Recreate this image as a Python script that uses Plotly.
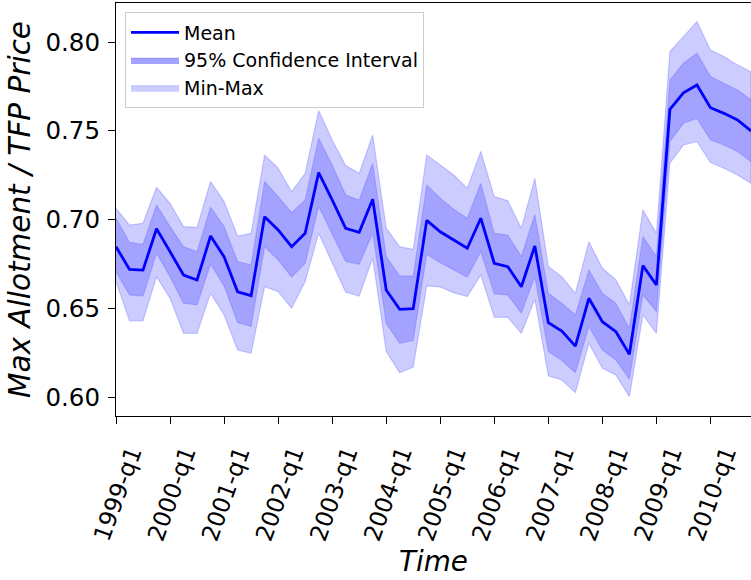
import plotly.graph_objects as go

# Quarterly periods 1999-q1 .. 2010-q4 (index positions along the time axis)
years = list(range(1999, 2011))
periods = [f"{y}-q{q}" for y in years for q in (1, 2, 3, 4)]
tick_labels = ["1999-q1", "2000-q1", "2001-q1", "2002-q1", "2003-q1", "2004-q1",
               "2005-q1", "2006-q1", "2007-q1", "2008-q1", "2009-q1", "2010-q1"]

mean = [0.6847, 0.6719, 0.6715, 0.6948, 0.6819, 0.6687, 0.6659, 0.6907, 0.6790, 0.6593,
        0.6571, 0.7016, 0.6941, 0.6847, 0.6922, 0.7264, 0.7110, 0.6950, 0.6928, 0.7114,
        0.6603, 0.6494, 0.6498, 0.6995, 0.6931, 0.6885, 0.6838, 0.7007, 0.6753, 0.6734,
        0.6621, 0.6851, 0.6419, 0.6372, 0.6287, 0.6556, 0.6424, 0.6368, 0.6241, 0.6740,
        0.6631, 0.7621, 0.7714, 0.7758, 0.7630, 0.7598, 0.7561, 0.7499]

ci_upper = [0.7007, 0.6872, 0.6860, 0.7082, 0.6960, 0.6847, 0.6819, 0.7069, 0.6960, 0.6763,
            0.6744, 0.7214, 0.7129, 0.7039, 0.7110, 0.7458, 0.7307, 0.7138, 0.7110, 0.7317,
            0.6791, 0.6682, 0.6682, 0.7195, 0.7120, 0.7058, 0.7007, 0.7204, 0.6922, 0.6913,
            0.6791, 0.7029, 0.6584, 0.6528, 0.6462, 0.6716, 0.6584, 0.6528, 0.6387, 0.6904,
            0.6791, 0.7786, 0.7880, 0.7937, 0.7805, 0.7768, 0.7730, 0.7674]

ci_lower = [0.6706, 0.6575, 0.6569, 0.6810, 0.6678, 0.6528, 0.6519, 0.6748, 0.6626, 0.6419,
            0.6397, 0.6847, 0.6772, 0.6675, 0.6753, 0.7073, 0.6922, 0.6763, 0.6748, 0.6922,
            0.6415, 0.6303, 0.6318, 0.6804, 0.6757, 0.6716, 0.6675, 0.6819, 0.6581, 0.6575,
            0.6472, 0.6678, 0.6256, 0.6205, 0.6137, 0.6397, 0.6265, 0.6209, 0.6100, 0.6575,
            0.6481, 0.7439, 0.7542, 0.7570, 0.7448, 0.7420, 0.7383, 0.7326]

mm_upper = [0.7063, 0.6969, 0.6979, 0.7182, 0.7091, 0.6960, 0.6956, 0.7214, 0.7101, 0.6907,
            0.6922, 0.7364, 0.7289, 0.7157, 0.7260, 0.7614, 0.7448, 0.7304, 0.7260, 0.7476,
            0.6951, 0.6847, 0.6832, 0.7364, 0.7307, 0.7251, 0.7176, 0.7383, 0.7129, 0.7105,
            0.6951, 0.7232, 0.6735, 0.6678, 0.6584, 0.6875, 0.6725, 0.6660, 0.6519, 0.7054,
            0.6922, 0.7946, 0.8030, 0.8115, 0.7955, 0.7918, 0.7871, 0.7833]

mm_lower = [0.6650, 0.6429, 0.6429, 0.6678, 0.6556, 0.6359, 0.6359, 0.6584, 0.6462, 0.6265,
            0.6246, 0.6622, 0.6594, 0.6500, 0.6650, 0.6922, 0.6753, 0.6590, 0.6569, 0.6782,
            0.6256, 0.6137, 0.6168, 0.6626, 0.6620, 0.6588, 0.6566, 0.6688, 0.6449, 0.6449,
            0.6359, 0.6551, 0.6119, 0.6096, 0.6025, 0.6303, 0.6162, 0.6124, 0.6002, 0.6462,
            0.6359, 0.7317, 0.7420, 0.7439, 0.7321, 0.7289, 0.7251, 0.7204]

x = list(range(len(periods)))
tick_vals = [periods.index(t) for t in tick_labels]

FONT = "DejaVu Sans"
fig = go.Figure()

# Min-Max band
fig.add_trace(go.Scatter(
    x=x + x[::-1], y=mm_upper + mm_lower[::-1],
    fill="toself", fillcolor="#ccccff", mode="lines",
    line=dict(color="rgba(0,0,255,0.18)", width=1.2),
    name="Min-Max", legendrank=3, hoverinfo="skip"))

# 95% CI band
fig.add_trace(go.Scatter(
    x=x + x[::-1], y=ci_upper + ci_lower[::-1],
    fill="toself", fillcolor="#a3a3ff", mode="lines",
    line=dict(color="rgba(0,0,255,0.15)", width=1.2),
    name="95% Confidence Interval", legendrank=2, hoverinfo="skip"))

# Mean line
fig.add_trace(go.Scatter(
    x=x, y=mean, mode="lines",
    line=dict(color="#0000ff", width=2.8),
    name="Mean", legendrank=1))

fig.update_layout(
    width=751, height=580,
    margin=dict(l=116, r=0, t=3, b=164),
    paper_bgcolor="white", plot_bgcolor="white",
    font=dict(family=FONT, color="black"),
    showlegend=True,
    legend=dict(
        x=0.0142, y=0.977, xanchor="left", yanchor="top",
        bgcolor="rgba(255,255,255,0.9)", bordercolor="#cccccc", borderwidth=1,
        font=dict(family=FONT, size=19, color="black"),
        itemwidth=48,
        traceorder="normal",
    ),
)

fig.update_xaxes(
    range=[0, 47],
    tickmode="array", tickvals=tick_vals, ticktext=tick_labels,
    tickangle=-70, tickfont=dict(family=FONT, size=23.5, color="black"),
    ticks="outside", ticklen=7, tickwidth=1.1, tickcolor="black",
    ticklabelshift=15, ticklabelstandoff=6,
    showline=True, linecolor="black", linewidth=1.1, mirror=True,
    showgrid=False, zeroline=False,
    title=dict(text="<i>Time</i>", font=dict(family=FONT, size=27.8, color="black"), standoff=6),
)

fig.update_yaxes(
    range=[0.58930, 0.82197],
    tickmode="array", tickvals=[0.60, 0.65, 0.70, 0.75, 0.80],
    ticktext=["0.60", "0.65", "0.70", "0.75", "0.80"],
    tickfont=dict(family=FONT, size=24.5, color="black"),
    ticks="outside", ticklen=7, tickwidth=1.1, tickcolor="black",
    ticklabelstandoff=3,
    showline=True, linecolor="black", linewidth=1.1, mirror=True,
    showgrid=False, zeroline=False,
    title=dict(text="<i>Max Allotment / TFP Price</i>", font=dict(family=FONT, size=29.5, color="black"), standoff=6),
)

fig.write_html("out.html")
